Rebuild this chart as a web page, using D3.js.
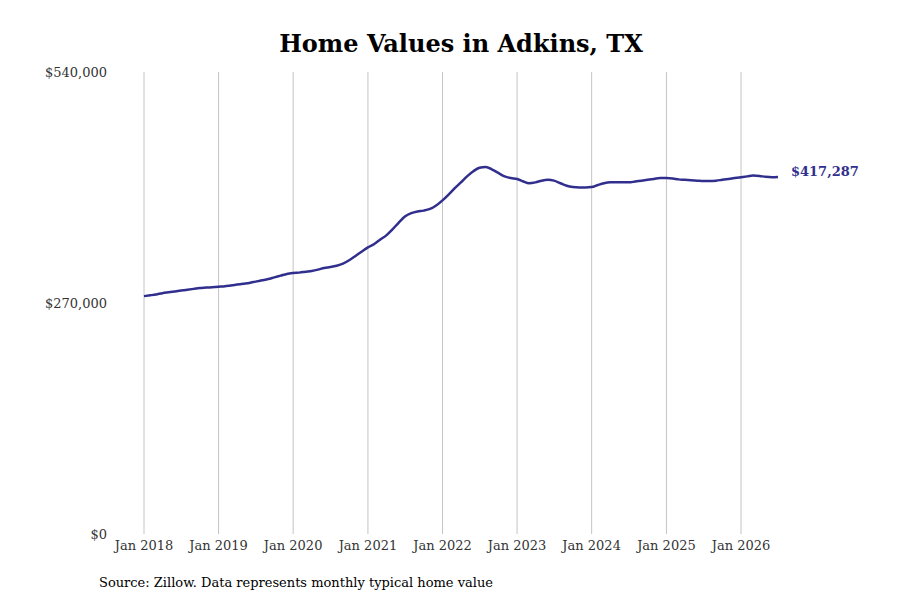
<!DOCTYPE html>
<html>
<head>
<meta charset="utf-8">
<script src="https://cdn.jsdelivr.net/npm/d3@7"></script>
<style>
body { margin: 0; background: #fff; }
text { font-family: "DejaVu Serif", "Liberation Serif", serif; }
</style>
</head>
<body>
<svg id="chart" width="900" height="600"></svg>
<script>
const startMonth = new Date(2018, 0, 1)
// monthly typical home value, in thousands
const values = [
    278, 279, 280, 281.5, 282.5, 283.5, 284.5, 285.5, 286.5, 287.5, 288, 288.5,
    289, 289.5, 290.5, 291.5, 292.5, 293.5, 295, 296.5, 298, 300, 302, 304,
    305, 305.5, 306.5, 307.5, 309, 311, 312, 313.5, 316, 320, 325, 330,
    335, 339, 344, 349, 356, 364, 371, 375, 377, 378, 380, 384,
    390, 397, 404, 411, 418, 424, 428, 429, 426, 422, 418, 416,
    415, 412, 410, 411, 413, 414, 413, 410, 407, 405.5, 405, 405,
    405.5, 408, 410, 411, 411, 411, 411, 412, 413, 414, 415, 416,
    416, 415.5, 414.5, 414, 413.5, 413, 412.5, 412.5, 413, 414, 415, 416,
    417, 418, 419, 418.5, 417.5, 417, 417.287
]
const yTicks = [0, 270000, 540000]
const xTickYears = [2018, 2019, 2020, 2021, 2022, 2023, 2024, 2025, 2026]

const data = values.map((v, i) => ({ date: d3.timeMonth.offset(startMonth, i), value: v * 1000 }))
const svg = d3.select("#chart")

const x = d3.scaleTime()
    .domain([new Date(2018, 0, 1), new Date(2026, 0, 1)])
    .range([144, 741])
const y = d3.scaleLinear().domain([0, 540000]).range([534, 72])
const fmt = d3.format("$,.0f")

// title
svg.append("text")
    .attr("x", 461).attr("y", 52)
    .attr("text-anchor", "middle")
    .style("font-size", "24px").style("font-weight", "bold")
    .text("Home Values in Adkins, TX")

// vertical grid + x labels
xTickYears.forEach(yr => {
    const xx = x(new Date(yr, 0, 1))
    svg.append("line")
        .attr("x1", xx).attr("x2", xx).attr("y1", 72).attr("y2", 534)
        .attr("stroke", "#c4c4c4").attr("stroke-width", 1)
    svg.append("text")
        .attr("x", xx).attr("y", 550)
        .attr("text-anchor", "middle")
        .style("font-size", "13px").attr("fill", "#333")
        .text("Jan " + yr)
})

// y labels
yTicks.forEach(t => {
    svg.append("text")
        .attr("x", 107).attr("y", y(t) + 5)
        .attr("text-anchor", "end")
        .style("font-size", "13px").attr("fill", "#333")
        .text(fmt(t))
})

const line = d3.line()
    .x(d => x(d.date))
    .y(d => y(d.value))
    .curve(d3.curveMonotoneX)

svg.append("path")
    .datum(data)
    .attr("d", line)
    .attr("fill", "none")
    .attr("stroke", "#312f8d")
    .attr("stroke-width", 2.5)

const last = data[data.length - 1]
svg.append("text")
    .attr("x", x(last.date) + 13).attr("y", y(last.value) - 1)
    .style("font-size", "13px").style("font-weight", "bold")
    .attr("fill", "#312f8d")
    .text(fmt(last.value))

svg.append("text")
    .attr("x", 99).attr("y", 587)
    .style("font-size", "13px").attr("fill", "#000")
    .text("Source: Zillow. Data represents monthly typical home value")
</script>
</body>
</html>
